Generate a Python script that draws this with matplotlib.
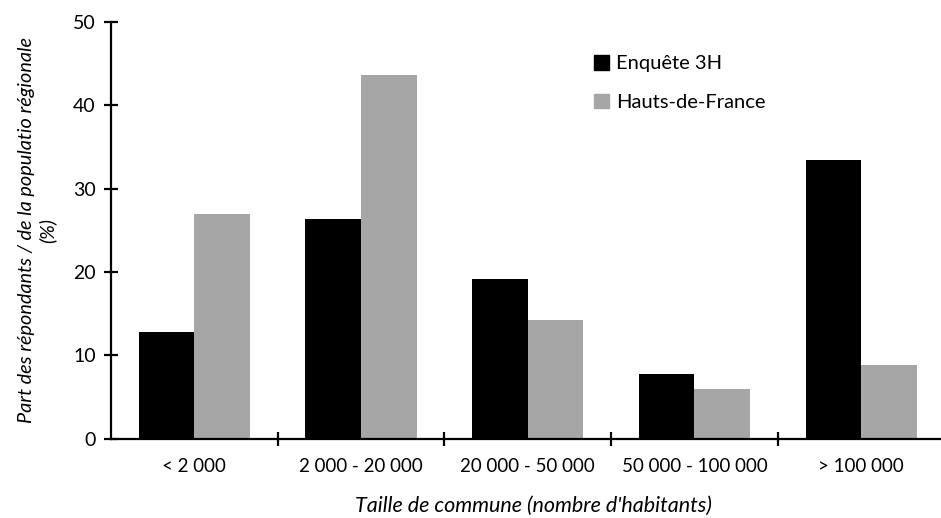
import matplotlib
matplotlib.use("Agg")
import matplotlib.pyplot as plt
import numpy as np
from matplotlib.patches import Patch

categories = ["< 2 000", "2 000 - 20 000", "20 000 - 50 000", "50 000 - 100 000", "> 100 000"]
enquete_3h = [12.8, 26.4, 19.2, 7.8, 33.4]
hauts_de_france = [27.0, 43.6, 14.2, 6.0, 8.8]
yticks = [0, 10, 20, 30, 40, 50]

plt.rcParams['font.family'] = ['Lato', 'DejaVu Sans']

W, H = 941, 518
fig = plt.figure(figsize=(W / 100, H / 100), dpi=100)
# axes in pixel coordinates
x0, x1 = 111, 941
y0, y1 = 438.7, 21.7
ax = fig.add_axes([x0 / W, 1 - y0 / H, (x1 - x0) / W, (y0 - y1) / H])

x = np.arange(len(categories))
bw = 1 / 3
ax.bar(x - bw / 2, enquete_3h, bw, color='black', label='Enquête 3H')
ax.bar(x + bw / 2, hauts_de_france, bw, color='#a6a6a6', label='Hauts-de-France')

ax.set_ylim(0, 50)
ax.set_xlim(-0.5, -0.5 + (x1 - x0) / 166.7)
ax.set_yticks(yticks)
ax.set_xticks(x)
ax.set_xticklabels(categories)
ax.set_xticks(np.arange(0.5, len(categories) - 0.5), minor=True)

for s in ['top', 'right']:
    ax.spines[s].set_visible(False)
for s in ['left', 'bottom']:
    ax.spines[s].set_linewidth(1.6)

ax.tick_params(axis='y', direction='inout', length=10, width=1.6, labelsize=14, pad=6)
ax.tick_params(axis='x', which='major', length=0, labelsize=13.5, pad=14)
ax.tick_params(axis='x', which='minor', direction='inout', length=10, width=1.6)

ax.set_ylabel("Part des répondants / de la populatio régionale\n(%)", fontsize=14.3,
              style='italic', linespacing=1.25, labelpad=12)
fig.text(533 / W, 1 - 506 / H, "Taille de commune (nombre d'habitants)",
         fontsize=15.5, style='italic', ha='center', va='center')

handles = [Patch(color='black'), Patch(color='#a6a6a6')]
ax.legend(handles, ['Enquête 3H', 'Hauts-de-France'], loc='upper left',
          bbox_to_anchor=((586 - x0) / (x1 - x0), (y0 - 47) / (y0 - y1)),
          frameon=False, fontsize=14.5, handlelength=0.75, handleheight=0.75,
          handletextpad=0.35, labelspacing=1.05, borderaxespad=0)

fig.savefig("out.png", dpi=100)
